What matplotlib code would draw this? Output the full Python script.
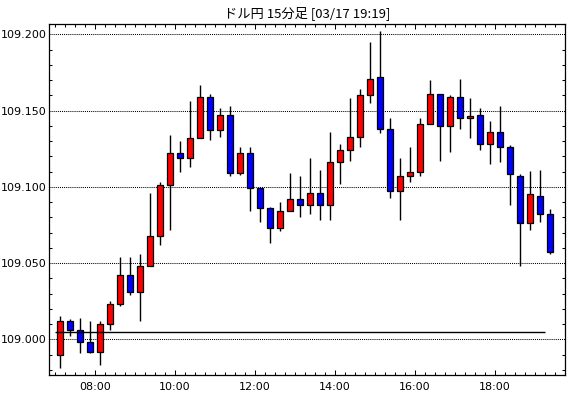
import matplotlib
matplotlib.use("Agg")
import matplotlib.pyplot as plt
import matplotlib.dates as mdates
import pandas as pd
import numpy as np

# ---- data ----
start_time = "2021-03-17 07:00"
n_candles = 50
opens = [108.990, 109.012, 109.006, 108.998, 108.992, 109.010, 109.023, 109.042, 109.031, 109.048,
         109.068, 109.101, 109.122, 109.119, 109.132, 109.159, 109.137, 109.147, 109.109, 109.122,
         109.099, 109.086, 109.073, 109.084, 109.092, 109.088, 109.096, 109.088, 109.116, 109.124,
         109.133, 109.160, 109.172, 109.138, 109.097, 109.107, 109.110, 109.141, 109.161, 109.140,
         109.159, 109.145, 109.147, 109.128, 109.136, 109.126, 109.107, 109.076, 109.094, 109.082]
highs = [109.015, 109.013, 109.014, 109.012, 109.012, 109.025, 109.054, 109.054, 109.056, 109.096,
         109.103, 109.134, 109.130, 109.156, 109.167, 109.161, 109.152, 109.153, 109.126, 109.126,
         109.100, 109.087, 109.090, 109.109, 109.107, 109.119, 109.111, 109.136, 109.128, 109.158,
         109.164, 109.195, 109.202, 109.145, 109.119, 109.126, 109.145, 109.170, 109.161, 109.160,
         109.171, 109.158, 109.152, 109.143, 109.153, 109.1275, 109.1085, 109.1105, 109.111, 109.0856]
lows = [108.981, 109.002, 108.991, 108.991, 108.983, 109.006, 109.022, 109.029, 109.012, 109.048,
        109.062, 109.072, 109.110, 109.113, 109.132, 109.131, 109.133, 109.107, 109.108, 109.084,
        109.077, 109.063, 109.071, 109.084, 109.080, 109.082, 109.078, 109.078, 109.102, 109.117,
        109.126, 109.155, 109.135, 109.093, 109.078, 109.103, 109.107, 109.141, 109.117, 109.123,
        109.138, 109.132, 109.124, 109.115, 109.116, 109.088, 109.048, 109.072, 109.077, 109.056]
closes = [109.012, 109.006, 108.998, 108.992, 109.010, 109.023, 109.042, 109.031, 109.048, 109.068,
          109.101, 109.122, 109.119, 109.132, 109.159, 109.137, 109.147, 109.109, 109.122, 109.099,
          109.086, 109.073, 109.084, 109.092, 109.088, 109.096, 109.088, 109.116, 109.124, 109.133,
          109.160, 109.171, 109.138, 109.097, 109.107, 109.110, 109.141, 109.161, 109.140, 109.159,
          109.145, 109.1465, 109.128, 109.136, 109.126, 109.1085, 109.076, 109.095, 109.082, 109.057]
ref_level = 109.005
ref_start = "2021-03-17 07:00"
ref_end = "2021-03-17 19:15"
title = "ドル円 15分足 [03/17 19:19]"
ytick_values = [109.000, 109.050, 109.100, 109.150, 109.200]

# ---- figure ----
plt.rcParams['font.family'] = ['DejaVu Sans']
W, H, DPI = 570, 398, 100
fig = plt.figure(figsize=(W / DPI, H / DPI), dpi=DPI)
ax = fig.add_axes([49 / W, 1 - 375 / H, (565 - 49) / W, (375 - 24) / H])

times = pd.date_range(start_time, periods=n_candles, freq="15min")
period = pd.Timedelta(minutes=15)
centers = mdates.date2num(times + period / 2)
pday = 15 / (24 * 60)

o = np.array(opens); c = np.array(closes); h = np.array(highs); l = np.array(lows)
up = c >= o
colors = np.where(up, "#FF0000", "#0000FF")

ax.vlines(centers, l, h, color="black", linewidth=1.0, zorder=2)
ax.bar(centers, np.abs(c - o), bottom=np.minimum(o, c), width=0.6 * pday,
       color=colors, edgecolor="black", linewidth=0.9, zorder=3)

ax.hlines(ref_level, mdates.date2num(pd.Timestamp(ref_start)),
          mdates.date2num(pd.Timestamp(ref_end)), color="black", linewidth=1.0, zorder=4)

# limits
x0 = mdates.date2num(pd.Timestamp(start_time) + period / 2) - 1.1 * pday
x1 = mdates.date2num(pd.Timestamp(start_time) + period / 2) + 50.5 * pday
ax.set_xlim(x0, x1)
ax.set_ylim(108.9766, 109.2068)

# y ticks
ax.set_yticks(ytick_values)
ax.set_yticklabels([f"{v:.3f}" for v in ytick_values])
ax.yaxis.set_minor_locator(matplotlib.ticker.MultipleLocator(0.01))
ax.tick_params(axis="y", which="major", length=0, pad=1.5, labelsize=8)
ax.tick_params(axis="y", which="minor", direction="in", length=2.2, width=0.75,
               left=True, right=True)
ax.grid(axis="y", which="major", color="black", linestyle=(0, (1, 1)), linewidth=0.75)

# x ticks
ax.xaxis.set_major_locator(mdates.HourLocator(byhour=range(0, 24, 2)))
ax.xaxis.set_major_formatter(mdates.DateFormatter("%H:%M"))
ax.xaxis.set_minor_locator(mdates.MinuteLocator(byminute=[0, 15, 30, 45]))
ax.tick_params(axis="x", which="major", direction="in", length=3.6, width=0.75,
               top=True, bottom=True, pad=5, labelsize=8)
ax.tick_params(axis="x", which="minor", direction="in", length=2.2, width=0.75,
               top=True, bottom=True)

for s in ax.spines.values():
    s.set_linewidth(0.9)
    s.set_color("black")

fig.text((49 + 565) / 2 / W, 1 - 13 / H, title, ha="center", va="center",
         fontsize=9.5, family=["Noto Sans CJK JP", "DejaVu Sans"])

fig.savefig("out.png", dpi=DPI)
